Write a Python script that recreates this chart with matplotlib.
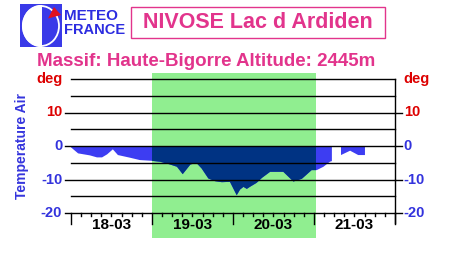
import matplotlib
matplotlib.use('Agg')
import matplotlib.pyplot as plt
from matplotlib.patches import Rectangle, Ellipse, Wedge, Polygon
import numpy as np

# hours since 18-03 00h, air temperature (deg C); nan = missing
hours = [0, 2.1, 5.6, 7.7, 9.2, 10.7, 12.4, 13.9, 17.5, 20.4, 23.7, 26.4, 29.3, 31.4,
         33.1, 35.4, 37.2, 38.7, 40.7, 42.7, 44.7, 47.1, 49.1, 50.1, 51.1, 52.1, 53.0,
         55.0, 56.6, 59.0, 62.9, 65.9, 68.4, 71.3, 72.8, 74.8, 76.7, 77.3, 78.5,
         80.0, 82.7, 85.1, 87.1]
temps = [-0.4, -2.2, -2.8, -3.4, -3.4, -2.5, -1.0, -2.7, -3.5, -4.2, -4.4, -4.7, -5.5, -6.2,
         -8.4, -5.5, -5.1, -6.7, -9.7, -10.5, -10.8, -10.7, -14.7, -13.0, -12.2, -12.8, -12.2,
         -11.0, -9.5, -7.7, -7.7, -10.6, -9.8, -7.2, -7.2, -6.2, -4.7, -4.5, np.nan,
         -2.7, -1.4, -2.7, -2.7]
day_labels = ['18-03', '19-03', '20-03', '21-03']
ytick_vals = [20, 10, 0, -10, -20]
ytick_text = ['deg', '10', '0', '-10', '-20']
ytick_cols = ['#dd0000', '#dd0000', '#3333dd', '#3333dd', '#3333dd']

pink = '#e2348c'
blue_txt = '#3535dd'
font = 'Liberation Sans'

fig = plt.figure(figsize=(4.6, 2.54), dpi=100)
W, H = 460.0, 254.0

ax = fig.add_axes([71 / W, 1 - 213 / H, 324 / W, 134 / H])
ax.set_xlim(0, 96)
ax.set_ylim(-20, 20)
ax.set_axis_off()

# day band (extends beyond axes vertically)
green = Rectangle((24, -27.5), 48.5, 49.3, facecolor='#90ee90', edgecolor='none',
                  zorder=0, clip_on=False)
ax.add_patch(green)

t = np.array(hours)
v = np.array(temps)
ax.fill_between(t, v, 0, color='#3d3df2', linewidth=0, zorder=1)
navy = ax.fill_between(t, v, 0, color='#003383', linewidth=0, zorder=2)
clip = Rectangle((24, -30), 48.5, 60, transform=ax.transData)
navy.set_clip_path(clip)

# horizontal grid
for y in range(20, -20, -5):
    x0 = -1.8 if y in (10, 0, -10) else 0
    ax.plot([x0, 96], [y, y], color='black', lw=1, zorder=3, clip_on=False)
ax.plot([-1.8, 96], [-20, -20], color='black', lw=1, zorder=3, clip_on=False)

# right spine + right ticks
ax.plot([96, 96], [20, -23], color='black', lw=1, zorder=3, clip_on=False)
for y in (10, 0, -10, -20):
    ax.plot([96, 98.1], [y, y], color='black', lw=1, zorder=3, clip_on=False)

# bottom ticks
for h in range(0, 97, 3):
    y1 = -23.3 if h % 24 == 0 else -21.0
    ax.plot([h, h], [-20, y1], color='black', lw=1, zorder=3, clip_on=False)

for i, lab in enumerate(day_labels):
    ax.text(12 + 24 * i, -23.7, lab, ha='center', va='center', fontsize=11,
            fontweight='bold', family=font, color='black')

for yv, s, c in zip(ytick_vals, ytick_text, ytick_cols):
    ax.text(-2.6, yv, s, ha='right', va='center', fontsize=10.5, fontweight='bold',
            family=font, color=c, clip_on=False)
    ax.text(98.6, yv, s, ha='left', va='center', fontsize=10.5, fontweight='bold',
            family=font, color=c, clip_on=False)

# header overlay in pixel coordinates
ov = fig.add_axes([0, 0, 1, 1])
ov.set_xlim(0, W)
ov.set_ylim(H, 0)
ov.set_axis_off()
ov.patch.set_alpha(0)

ov.add_patch(Rectangle((20, 4), 42, 43, facecolor='#3a3ae8', edgecolor='none'))
ov.add_patch(Ellipse((41, 26), 36, 40, facecolor='none', edgecolor='white', lw=1.5))
ov.add_patch(Ellipse((41, 26), 36, 40, facecolor='white', edgecolor='none'))
ov.add_patch(Rectangle((41.6, 5), 20, 42, facecolor='#3a3ae8', edgecolor='none'))
ov.add_patch(Ellipse((41, 26), 36, 40, facecolor='none', edgecolor='white', lw=1.3))
ov.plot([41, 41], [6, 46], color='white', lw=1.2)
ov.add_patch(Polygon([(54, 7), (61, 15), (48, 18.5)], closed=True,
                     facecolor='#e01020', edgecolor='none'))
ov.text(64, 16, 'METEO', ha='left', va='center', fontsize=11, fontweight='bold',
        family=font, color='#2c2ce0')
ov.text(64, 30, 'FRANCE', ha='left', va='center', fontsize=10.5, fontweight='bold',
        family=font, color='#2c2ce0')

ov.add_patch(Rectangle((131, 7), 254, 31, facecolor='none', edgecolor=pink, lw=1))
ov.text(258, 23, 'NIVOSE Lac d Ardiden', ha='center', va='center', fontsize=15.5,
        fontweight='bold', family=font, color=pink)
ov.text(206, 62, 'Massif: Haute-Bigorre Altitude: 2445m', ha='center', va='center',
        fontsize=13.5, fontweight='bold', family=font, color=pink)
ov.text(22, 146, 'Temperature Air', ha='center', va='center', rotation=90,
        fontsize=10, fontweight='bold', family=font, color=blue_txt)

fig.savefig('out.png', dpi=100)
